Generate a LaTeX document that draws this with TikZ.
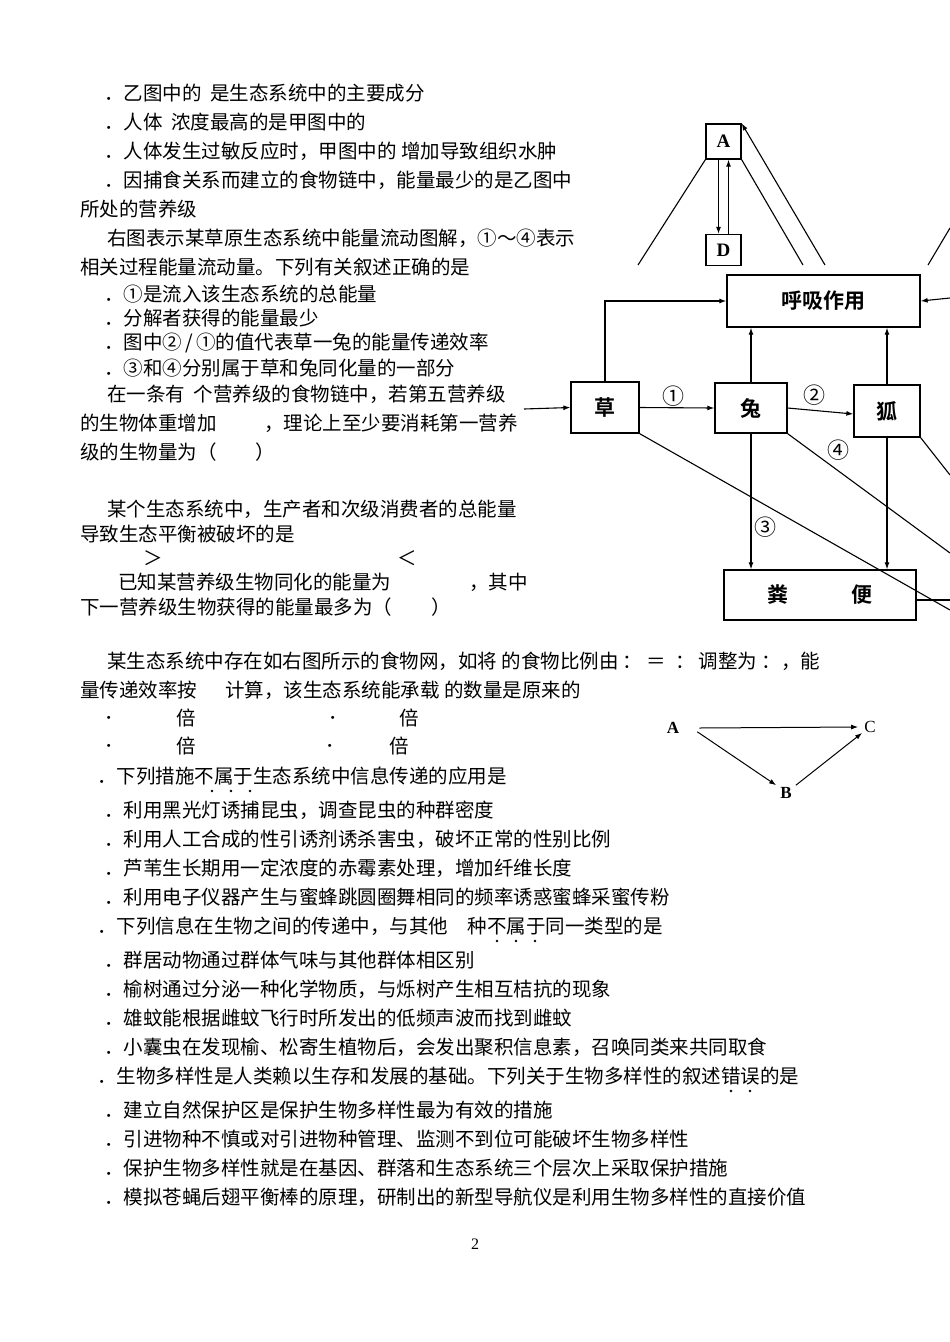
\documentclass[tikz,border=0pt]{standalone}
\usepackage{fontspec}
\setmainfont{Liberation Serif}
\newfontfamily\cjk{Noto Sans CJK SC}
\newfontfamily\cjkb{Noto Sans CJK SC Bold}
\usetikzlibrary{arrows.meta}
\begin{document}
\begin{tikzpicture}[x=1pt,y=-1pt,
  txt/.style={anchor=west,inner sep=0pt,font=\cjk\fontsize{19.5}{19.5}\selectfont},
  bx/.style={draw,line width=1.3pt,inner sep=0pt},
  ln/.style={line width=1.1pt},
  ar/.style={line width=1.1pt,-{Latex[length=7pt,width=5pt]}},
  cn/.style={font=\cjkb\fontsize{21}{21}\selectfont},
  lab/.style={font=\cjk\fontsize{22}{22}\selectfont}]
\useasboundingbox (0,0) rectangle (950,1342);
% ---- text
\node[txt] (t1) at (104,93) {．乙图中的\ \ 是生态系统中的主要成分};
\node[txt] (t2) at (104,122) {．人体\ \ 浓度最高的是甲图中的};
\node[txt] (t3) at (104,151) {．人体发生过敏反应时，甲图中的\ 增加导致组织水肿};
\node[txt] (t4) at (104,180) {．因捕食关系而建立的食物链中，能量最少的是乙图中};
\node[txt] (t5) at (80,209) {所处的营养级};
\node[txt] (t6) at (107,238) {右图表示某草原生态系统中能量流动图解，①～④表示};
\node[txt] (t7) at (80,267) {相关过程能量流动量。下列有关叙述正确的是};
\node[txt] (t8) at (104,294) {．①是流入该生态系统的总能量};
\node[txt] (t9) at (104,318) {．分解者获得的能量最少};
\node[txt] (t10) at (104,343) {．图中②\,/\,①的值代表草一兔的能量传递效率};
\node[txt] (t11) at (104,368) {．③和④分别属于草和兔同化量的一部分};
\node[txt] (t12) at (107,394) {在一条有\ \ 个营养级的食物链中，若第五营养级};
\node[txt] (t13) at (80,423) {的生物体重增加\qquad\ \ ，理论上至少要消耗第一营养};
\node[txt] (t14) at (80,452) {级的生物量为（\qquad）};
\node[txt] (t15) at (107,509) {某个生态系统中，生产者和次级消费者的总能量};
\node[txt] (t16) at (80,534) {导致生态平衡被破坏的是};
\node[txt] (t17) at (143,558) {＞};
\node[txt] (t18) at (397,558) {＜};
\node[txt] (t19) at (118,582) {已知某营养级生物同化的能量为\qquad\qquad ，其中};
\node[txt] (t20) at (80,607) {下一营养级生物获得的能量最多为（\qquad）};
\node[txt] (t21) at (107,661) {某生态系统中存在如右图所示的食物网，如将\ 的食物比例由\ ：\ ＝\ \ ：\ 调整为\ ：，能};
\node[txt] (t22) at (80,690) {量传递效率按\quad\ \ 计算，该生态系统能承载\ 的数量是原来的};
\node[txt] (t23) at (104,718) {．};
\node[txt] (t24) at (176,718) {倍};
\node[txt] (t25) at (328,718) {．};
\node[txt] (t26) at (399,718) {倍};
\node[txt] (t27) at (104,746) {．};
\node[txt] (t28) at (176,746) {倍};
\node[txt] (t29) at (325,746) {．};
\node[txt] (t30) at (389,746) {倍};
\node[txt] (t31) at (97,776) {．下列措施不属于生态系统中信息传递的应用是};
\node[txt] (t32) at (104,810) {．利用黑光灯诱捕昆虫，调查昆虫的种群密度};
\node[txt] (t33) at (104,839) {．利用人工合成的性引诱剂诱杀害虫，破坏正常的性别比例};
\node[txt] (t34) at (104,868) {．芦苇生长期用一定浓度的赤霉素处理，增加纤维长度};
\node[txt] (t35) at (104,897) {．利用电子仪器产生与蜜蜂跳圆圈舞相同的频率诱惑蜜蜂采蜜传粉};
\node[txt] (t36) at (97,926) {．下列信息在生物之间的传递中，与其他\quad 种不属于同一类型的是};
\node[txt] (t37) at (104,960) {．群居动物通过群体气味与其他群体相区别};
\node[txt] (t38) at (104,989) {．榆树通过分泌一种化学物质，与烁树产生相互桔抗的现象};
\node[txt] (t39) at (104,1018) {．雄蚊能根据雌蚊飞行时所发出的低频声波而找到雌蚊};
\node[txt] (t40) at (104,1047) {．小囊虫在发现榆、松寄生植物后，会发出聚积信息素，召唤同类来共同取食};
\node[txt] (t41) at (97,1076) {．生物多样性是人类赖以生存和发展的基础。下列关于生物多样性的叙述错误的是};
\node[txt] (t42) at (104,1110) {．建立自然保护区是保护生物多样性最为有效的措施};
\node[txt] (t43) at (104,1139) {．引进物种不慎或对引进物种管理、监测不到位可能破坏生物多样性};
\node[txt] (t44) at (104,1168) {．保护生物多样性就是在基因、群落和生态系统三个层次上采取保护措施};
\node[txt] (t45) at (104,1197) {．模拟苍蝇后翅平衡棒的原理，研制出的新型导航仪是利用生物多样性的直接价值};
\node[inner sep=0pt,font=\fontsize{16}{16}\selectfont] (pg) at (475,1244) {2};
% emphasis dots
\foreach \x in {212,231,250}{\fill (\x,791) circle (1.4);}
\foreach \x in {497,516,535}{\fill (\x,941) circle (1.4);}
\foreach \x in {731,750}{\fill (\x,1091) circle (1.4);}
% ---- 甲图 fragment
\node[bx,minimum width=35pt,minimum height=35pt,font=\fontsize{19}{19}\selectfont\bfseries] (A) at (723.5,141.5) {A};
\node[bx,minimum width=35pt,minimum height=31pt,font=\fontsize{19}{19}\selectfont\bfseries] (D) at (723.5,250) {D};
\coordinate (c1) at (638,265);
\coordinate (c2) at (803,265);
\coordinate (c3) at (825,265);
\coordinate (c4) at (928,265);
\coordinate (c5) at (950,228);
\draw[ln] (A.south west) -- (c1);
\draw[ln] (A.south east) -- (c2);
\draw[ar] (c3) -- (A.north east);
\draw[ln] (c4) -- (c5);
\draw[ar] ([xshift=-5pt]A.south) -- ([xshift=-5pt]D.north);
\draw[ar] ([xshift=5pt]D.north) -- ([xshift=5pt]A.south);
% ---- 能量流动图
\node[bx,minimum width=193pt,minimum height=52pt,cn] (R) at (823.5,301) {呼吸作用};
\node[bx,minimum width=68pt,minimum height=51pt,cn] (G) at (605,407.5) {草};
\node[bx,minimum width=72pt,minimum height=50pt,cn] (T) at (751,408) {兔};
\node[bx,minimum width=66pt,minimum height=52pt,cn] (F) at (887,411) {狐};
\node[bx,minimum width=192pt,minimum height=50pt,cn] (S) at (820,595) {粪\qquad\quad 便};
\coordinate (in) at (524,409);
\coordinate (rin) at (950,298);
\coordinate (e1) at (950,610);
\coordinate (e2) at (950,553);
\coordinate (e3) at (950,475);
\coordinate (e4) at (950,600);
\draw[ar] (in) -- (G.west);
\draw[ar] (G.north) -- (G.north |- R.west) -- (R.west);
\draw[ar] (rin) -- (R.east);
\draw[ar] (G.east) -- (T.west);
\draw[ar] (T.east) -- ([yshift=-3pt]F.west);
\draw[ar] (T.north) -- (T.north |- R.south);
\draw[ar] (F.north) -- (F.north |- R.south);
\draw[ar] (T.south) -- (T.south |- S.north);
\draw[ar] (F.south) -- (F.south |- S.north);
\draw[ln] (G.south east) -- (e1);
\draw[ln] (T.south east) -- (e2);
\draw[ln] (F.south east) -- (e3);
\draw[ln] (S.east |- e4) -- (e4);
\node[lab] (n1) at (673,396) {①};
\node[lab] (n2) at (814,395) {②};
\node[lab] (n4) at (838,450) {④};
\node[lab] (n3) at (765,527) {③};
% ---- 食物网
\node[font=\fontsize{17}{17}\selectfont\bfseries,inner sep=2pt] (fa) at (673,728) {A};
\node[font=\fontsize{17}{17}\selectfont,inner sep=2pt] (fc) at (870,727) {C};
\node[font=\fontsize{17}{17}\selectfont\bfseries,inner sep=2pt] (fb) at (786,793) {B};
\draw[ar,line width=1pt] ([xshift=18pt]fa.east) -- ([xshift=-4pt]fc.west);
\draw[ar,line width=1pt] ([xshift=16pt,yshift=4pt]fa.south east) -- ([xshift=-2pt]fb.north west);
\draw[ar,line width=1pt] ([xshift=2pt]fb.north east) -- ([yshift=2pt]fc.south west);
\end{tikzpicture}
\end{document}
